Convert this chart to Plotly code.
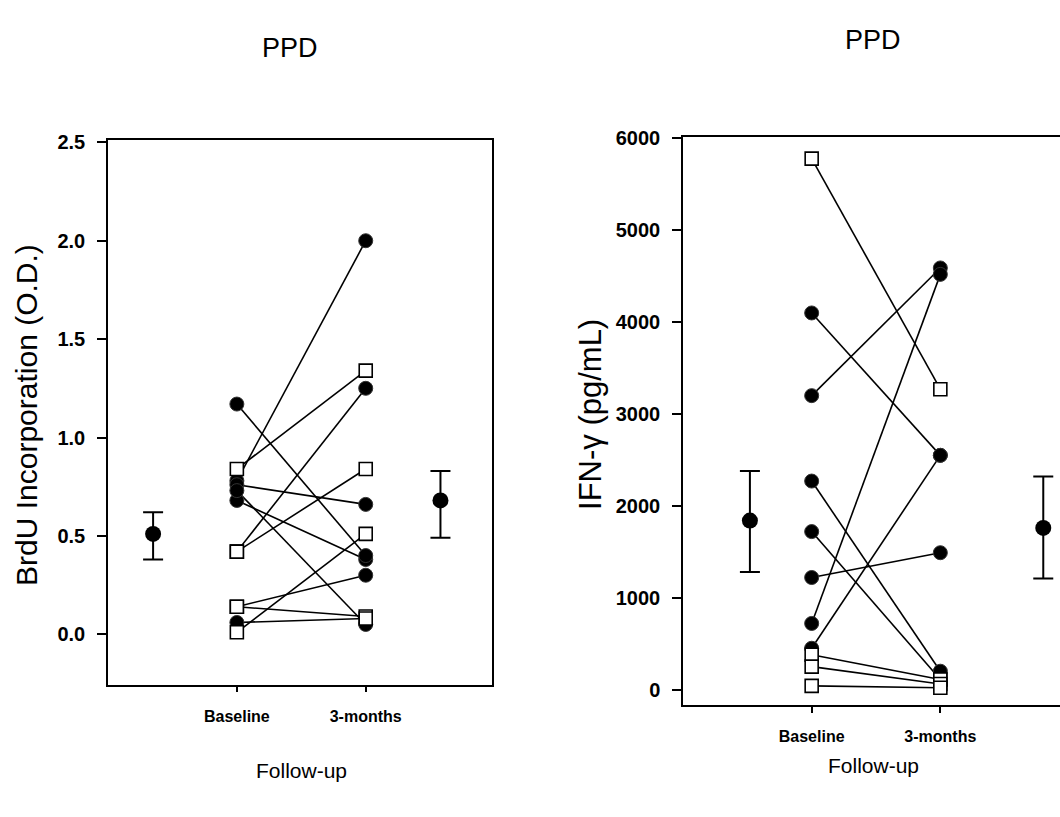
import plotly.graph_objects as go

# ---------------- data ----------------
x_tick_labels = ["Baseline", "3-months"]
x_positions = [1, 2]

# Left panel: BrdU incorporation (O.D.), one entry per subject
brdu_baseline = [0.78, 0.84, 0.42, 0.42, 0.76, 0.01, 0.68, 1.17, 0.14, 0.14, 0.06, 0.73]
brdu_month3 = [2.00, 1.34, 1.25, 0.84, 0.66, 0.51, 0.38, 0.40, 0.30, 0.09, 0.08, 0.05]
brdu_sym_base = ["c", "s", "s", "s", "c", "s", "c", "c", "s", "s", "c", "c"]
brdu_sym_m3 = ["c", "s", "c", "s", "c", "s", "c", "c", "c", "s", "s", "c"]
brdu_mean_x = [0.35, 2.58]
brdu_means = [0.51, 0.68]
brdu_err_plus = [0.11, 0.15]
brdu_err_minus = [0.13, 0.19]
brdu_ticks = [0.0, 0.5, 1.0, 1.5, 2.0, 2.5]
brdu_ticktext = ["0.0", "0.5", "1.0", "1.5", "2.0", "2.5"]

# Right panel: IFN-gamma (pg/mL)
ifn_baseline = [5780, 4100, 3200, 720, 450, 2270, 1720, 1220, 380, 250, 40]
ifn_month3 = [3270, 2550, 4590, 4520, 2550, 200, 110, 1490, 110, 60, 20]
ifn_sym_base = ["s", "c", "c", "c", "c", "c", "c", "c", "s", "s", "s"]
ifn_sym_m3 = ["s", "c", "c", "c", "c", "c", "s", "c", "s", "s", "s"]
ifn_mean_x = [0.52, 2.80]
ifn_means = [1840, 1760]
ifn_err_plus = [540, 560]
ifn_err_minus = [560, 550]
ifn_ticks = [0, 1000, 2000, 3000, 4000, 5000, 6000]

FONT = "Liberation Sans, Arial, Helvetica, sans-serif"
W, H = 1060, 817

fig = go.Figure()


def add_panel(base, m3, sb, sm, mx, mv, ep, em, xa, ya):
    # connecting lines
    for b, m in zip(base, m3):
        fig.add_trace(go.Scatter(x=x_positions, y=[b, m], mode="lines",
                                 line=dict(color="black", width=1.6),
                                 xaxis=xa, yaxis=ya, showlegend=False, hoverinfo="skip"))
    cx, cy, qx, qy = [], [], [], []
    for b, m, s1, s2 in zip(base, m3, sb, sm):
        for xv, yv, s in ((x_positions[0], b, s1), (x_positions[1], m, s2)):
            if s == "c":
                cx.append(xv); cy.append(yv)
            else:
                qx.append(xv); qy.append(yv)
    fig.add_trace(go.Scatter(x=cx, y=cy, mode="markers",
                             marker=dict(symbol="circle", size=14, color="black",
                                         line=dict(color="#333", width=1)),
                             xaxis=xa, yaxis=ya, showlegend=False))
    fig.add_trace(go.Scatter(x=qx, y=qy, mode="markers",
                             marker=dict(symbol="square", size=13, color="white",
                                         line=dict(color="black", width=1.6)),
                             xaxis=xa, yaxis=ya, showlegend=False))
    fig.add_trace(go.Scatter(x=mx, y=mv, mode="markers",
                             marker=dict(symbol="circle", size=16, color="black"),
                             error_y=dict(type="data", array=ep, arrayminus=em,
                                          color="black", thickness=2, width=10),
                             xaxis=xa, yaxis=ya, showlegend=False))


add_panel(brdu_baseline, brdu_month3, brdu_sym_base, brdu_sym_m3,
          brdu_mean_x, brdu_means, brdu_err_plus, brdu_err_minus, "x", "y")
add_panel(ifn_baseline, ifn_month3, ifn_sym_base, ifn_sym_m3,
          ifn_mean_x, ifn_means, ifn_err_plus, ifn_err_minus, "x2", "y2")

xtickfont = dict(family=FONT, size=16, color="black", weight="bold")
ytickfont = dict(family=FONT, size=20, color="black", weight="bold")

common_x = dict(tickvals=x_positions, ticktext=x_tick_labels, ticks="outside",
                ticklen=6, tickwidth=1.5, tickcolor="black", showline=True,
                linecolor="black", linewidth=1.5, showgrid=False, zeroline=False,
                tickfont=xtickfont, ticklabelstandoff=10)
common_y = dict(ticks="outside", ticklen=9, tickwidth=1.5, tickcolor="black",
                showline=True, linecolor="black", linewidth=1.5, showgrid=False,
                zeroline=False, tickfont=ytickfont, ticklabelstandoff=8)

fig.update_layout(
    width=W, height=H, margin=dict(l=0, r=0, t=0, b=0),
    paper_bgcolor="white", plot_bgcolor="white",
    xaxis=dict(domain=[108 / W, 492 / W], range=[0, 2.98], anchor="y",
               mirror=True, **common_x),
    yaxis=dict(domain=[1 - 683 / H, 1 - 132 / H], range=[-0.256, 2.51], anchor="x",
               mirror=True, tickvals=brdu_ticks, ticktext=brdu_ticktext, **common_y),
    xaxis2=dict(domain=[683 / W, 1.0], range=[0, 2.93], anchor="y2",
                mirror=True, **common_x),
    yaxis2=dict(domain=[1 - 704 / H, 1 - 129 / H], range=[-172, 6011], anchor="x2",
                mirror=False, tickvals=ifn_ticks, **common_y),
)

texts = [
    ("PPD", 290, 38, 0, 27),
    ("PPD", 873, 30, 0, 27),
    ("Follow-up", 301, 770, 0, 21),
    ("Follow-up", 873, 765, 0, 21),
    ("BrdU Incorporation (O.D.)", 27, 410, -90, 30),
    ("IFN-\u03b3 (pg/mL)", 591, 410, -90, 31),
]
for t, px, py, ang, sz in texts:
    fig.add_annotation(text=t, x=px / W, y=1 - py / H, xref="paper", yref="paper",
                       showarrow=False, textangle=ang, xanchor="center", yanchor="middle",
                       font=dict(family=FONT, size=sz, color="black"))

fig.write_html("out.html")
